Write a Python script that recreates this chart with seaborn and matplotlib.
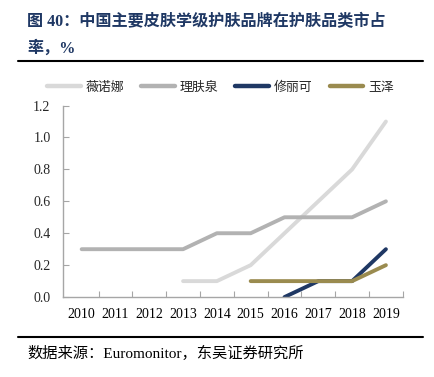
import matplotlib
matplotlib.use("Agg")
import matplotlib.pyplot as plt
import seaborn as sns
import pandas as pd
import numpy as np
from matplotlib.ticker import FixedLocator

sns.set_theme(style="white")
plt.rcParams['font.family'] = ['Liberation Serif', 'Noto Sans CJK SC', 'DejaVu Sans']
plt.rcParams['axes.unicode_minus'] = False

years = [2010, 2011, 2012, 2013, 2014, 2015, 2016, 2017, 2018, 2019]
brands = ["薇诺娜", "理肤泉", "修丽可", "玉泽"]
winona = [None, None, None, 0.1, 0.1, 0.2, 0.4, 0.6, 0.8, 1.1]
laroche = [0.3, 0.3, 0.3, 0.3, 0.4, 0.4, 0.5, 0.5, 0.5, 0.6]
skinceuticals = [None, None, None, None, None, None, 0.0, 0.1, 0.1, 0.3]
yuze = [None, None, None, None, None, 0.1, 0.1, 0.1, 0.1, 0.2]
colors = ["#D9D9D9", "#B2B2B2", "#1F3864", "#9A8B4F"]

rows = []
for b, vals in zip(brands, [winona, laroche, skinceuticals, yuze]):
    for y, v in zip(years, vals):
        if v is not None:
            rows.append({"年份": y, "品牌": b, "市占率": v})
df = pd.DataFrame(rows)

fig = plt.figure(figsize=(4.35, 3.77), dpi=100)
ax = fig.add_axes([0.145, 0.212, 0.781, 0.508])

sns.lineplot(data=df, x="年份", y="市占率", hue="品牌", hue_order=brands,
             palette=colors, linewidth=2.8, ax=ax, legend=False)

ax.set_xlim(2009.45, 2019.5)
ax.set_ylim(0, 1.2)
ax.set_yticks(np.arange(0, 1.21, 0.2))
ax.set_yticklabels([f"{v:.1f}" for v in np.arange(0, 1.21, 0.2)])
ax.set_xticks(years)
ax.set_xticklabels([str(y) for y in years])
ax.xaxis.set_minor_locator(FixedLocator([y + 0.5 for y in years]))
ax.tick_params(axis='x', which='major', length=0, labelsize=10, pad=8, colors='black')
ax.tick_params(axis='x', which='minor', length=4, direction='in', color='#A6A6A6', width=0.8, bottom=True)
ax.tick_params(axis='y', length=4, direction='in', color='#A6A6A6', width=0.8, labelsize=10, pad=9, left=True)
ax.set_xlabel("")
ax.set_ylabel("")
for s in ["top", "right"]:
    ax.spines[s].set_visible(False)
for s in ["left", "bottom"]:
    ax.spines[s].set_color("#A6A6A6")
    ax.spines[s].set_linewidth(1.0)
ax.grid(False)

handles = [plt.Line2D([0], [0], color=c, lw=3.2) for c in colors]
fig.legend(handles, brands, loc="center", bbox_to_anchor=(0.507, 0.768), ncol=4,
           frameon=False, fontsize=9.3, handlelength=2.6, handletextpad=0.4,
           columnspacing=1.3)

title_color = "#1F3864"
fig.text(0.062, 0.942, "图 40：中国主要皮肤学级护肤品牌在护肤品类市占", fontsize=11.6,
         fontweight="bold", color=title_color, va="center", ha="left")
fig.text(0.062, 0.87, "率，%", fontsize=11.6, fontweight="bold", color=title_color,
         va="center", ha="left")

fig.add_artist(plt.Line2D([0.041, 0.972], [0.838, 0.838], color="black", lw=1.5,
                          transform=fig.transFigure))
fig.add_artist(plt.Line2D([0.041, 0.972], [0.105, 0.105], color="black", lw=1.5,
                          transform=fig.transFigure))
fig.text(0.062, 0.064, "数据来源：Euromonitor，东吴证券研究所", fontsize=11,
         color="black", va="center", ha="left")

fig.savefig("out.png", dpi=100)
